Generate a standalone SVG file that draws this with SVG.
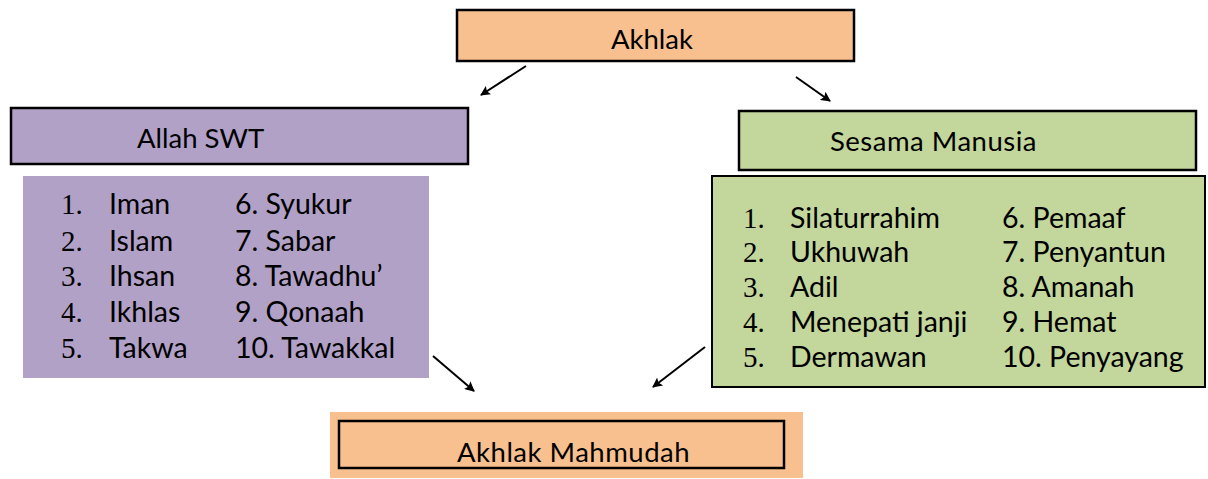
<svg xmlns="http://www.w3.org/2000/svg" width="1208" height="479" viewBox="0 0 1208 479">
<style>
.t{font-family:Lato,"Open Sans",sans-serif;fill:#000}
.title{font-size:27.5px}
.wide{letter-spacing:0.5px}
.li{font-size:28.5px}
.num{font-family:"Liberation Serif",serif;font-size:29px}
.conn{stroke:#000;stroke-width:2;fill:none;marker-end:url(#ah)}
</style>
<defs>
<marker id="ah" viewBox="0 0 10 10" refX="9" refY="5" markerWidth="5" markerHeight="5" orient="auto" markerUnits="strokeWidth">
<path d="M0,0 L10,5 L0,10 L2,5 z" fill="#000"/>
</marker>
</defs>
<rect width="1208" height="479" fill="#fff"/>
<g id="akhlak">
<rect x="457" y="10" width="397" height="51" fill="#F9C08F" stroke="#000" stroke-width="2.5"/>
<text class="t title" x="652" y="49" text-anchor="middle">Akhlak</text>
</g>
<g id="allah-swt">
<rect x="11" y="108" width="457" height="56" fill="#B2A1C7" stroke="#000" stroke-width="2.5"/>
<text class="t title" x="137" y="148">Allah SWT</text>
</g>
<g id="allah-list">
<rect x="23" y="176" width="406" height="202" fill="#B2A1C7"/>
<g class="num">
<text x="61" y="214">1.</text><text x="61" y="251">2.</text><text x="61" y="286">3.</text><text x="61" y="322">4.</text><text x="61" y="358">5.</text>
</g>
<g class="t li">
<text x="109" y="214">Iman</text><text x="109" y="251">Islam</text><text x="109" y="286">Ihsan</text><text x="109" y="322">Ikhlas</text><text x="109" y="358">Takwa</text>
<text x="235" y="214">6. Syukur</text><text x="235" y="251">7. Sabar</text><text x="235" y="286">8. Tawadhu’</text><text x="235" y="322">9. Qonaah</text><text x="235" y="358">10. Tawakkal</text>
</g>
</g>
<g id="sesama-manusia">
<rect x="739" y="111" width="457" height="59" fill="#C3D69B" stroke="#000" stroke-width="2.5"/>
<text class="t title wide" x="830" y="151">Sesama Manusia</text>
</g>
<g id="manusia-list">
<rect x="712" y="176" width="493" height="211" fill="#C3D69B" stroke="#000" stroke-width="2"/>
<g class="num">
<text x="743" y="228">1.</text><text x="743" y="262">2.</text><text x="743" y="297">3.</text><text x="743" y="332">4.</text><text x="743" y="367">5.</text>
</g>
<g class="t li">
<text x="790" y="228">Silaturrahim</text><text x="790" y="262">Ukhuwah</text><text x="790" y="297">Adil</text><text x="790" y="332">Menepati janji</text><text x="790" y="367">Dermawan</text>
<text x="1002" y="228">6. Pemaaf</text><text x="1002" y="262">7. Penyantun</text><text x="1002" y="297">8. Amanah</text><text x="1002" y="332">9. Hemat</text><text x="1002" y="367">10. Penyayang</text>
</g>
</g>
<g id="akhlak-mahmudah">
<rect x="330" y="412" width="473" height="66" fill="#F9C08F"/>
<rect x="339" y="421" width="445" height="47" fill="none" stroke="#000" stroke-width="2.5"/>
<text class="t title wide" x="457" y="462">Akhlak Mahmudah</text>
</g>
<g id="connectors">
<line class="conn" x1="526" y1="66" x2="481" y2="95"/>
<line class="conn" x1="796" y1="77" x2="830" y2="101"/>
<line class="conn" x1="433" y1="356" x2="474" y2="391"/>
<line class="conn" x1="705" y1="347" x2="653" y2="387"/>
</g>
</svg>
